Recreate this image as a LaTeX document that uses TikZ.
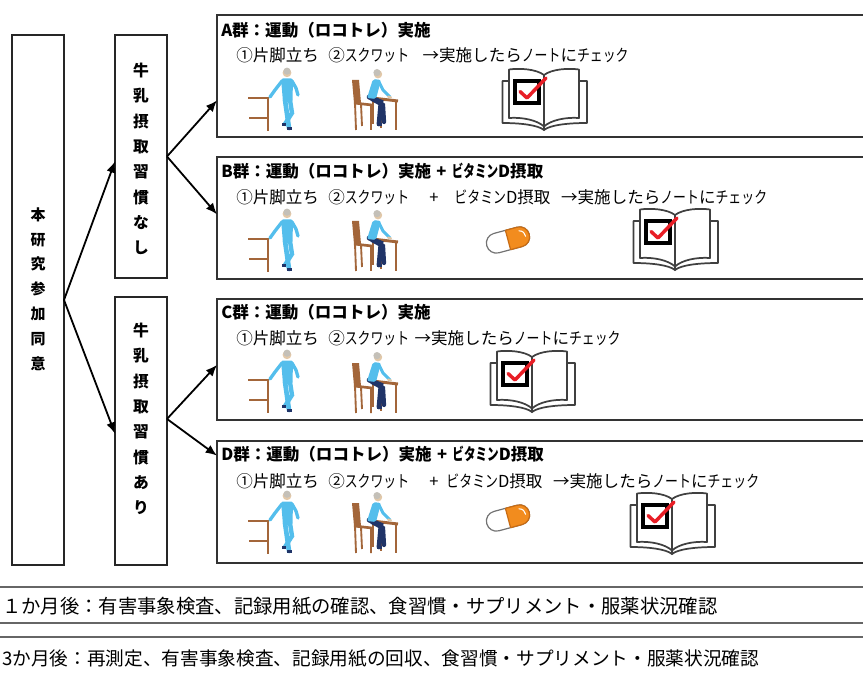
\documentclass[tikz,border=0pt]{standalone}
\usepackage{fontspec}
\usepackage{graphicx}
\setmainfont{Noto Sans CJK JP}
\usetikzlibrary{arrows.meta,calc}

\definecolor{chairc}{RGB}{163,102,58}
\definecolor{skin}{RGB}{226,200,168}
\definecolor{hairc}{RGB}{196,192,184}
\definecolor{shirt}{RGB}{84,190,236}
\definecolor{pants}{RGB}{32,52,104}
\definecolor{pillor}{RGB}{242,140,30}
\definecolor{pillorD}{RGB}{200,108,20}
\definecolor{checkred}{RGB}{232,30,38}
\definecolor{bookc}{RGB}{64,64,64}

% narrower katakana runs
\newcommand\kn[1]{\scalebox{0.78}[1]{#1}}
\newcommand\knt[1]{\scalebox{0.7}[1]{#1}}
\newcommand\gap[1]{\hspace{#1pt}}

\tikzset{
  frame/.style={draw=black!85, line width=1.1pt, inner sep=0pt, outer sep=0pt, anchor=north west},
  grpbox/.style={draw=black!80, line width=1.5pt, inner sep=0pt, outer sep=0pt, anchor=north west,
                 minimum width=493.5pt},
  arr/.style={-{Latex[length=8.5pt,width=7pt]}, line width=1.35pt},
  vtext/.style={font=\bfseries\fontsize{11.2}{18.6}\selectfont, align=center, inner sep=0pt},
  mtext/.style={font=\bfseries\fontsize{11.8}{19}\selectfont, align=center, inner sep=0pt},
  title/.style={font=\bfseries\fontsize{12.4}{14}\selectfont, anchor=west, inner sep=0pt},
  item/.style={font=\fontsize{12.4}{14}\selectfont, anchor=west, inner sep=0pt},
  note/.style={font=\fontsize{14.5}{16}\selectfont, anchor=west, inner sep=0pt},
  rulel/.style={draw=black!60, line width=1.2pt},
  % one-leg standing figure holding a chair
  standfig/.pic={
    \draw[chairc, line width=2.1pt] (0,30) -- (20,30) -- (20,63);
    \draw[chairc, line width=2.1pt] (1,50) -- (20,50);
    \draw[shirt, line width=2.5pt, line cap=round] (34,13) -- (27,22) -- (22,29);
    \draw[shirt, line width=2.5pt, line cap=round] (44,13) -- (48,20) -- (50,27);
    \draw[shirt, line width=3.3pt, line cap=round] (42,32) -- (44,45) -- (37,56);
    \draw[shirt, line width=3.5pt, line cap=round] (37,32) -- (39,46) -- (41,60);
    \fill[shirt, rounded corners=1.5pt] (33,10.5) -- (45,10.5) -- (44.5,34) -- (35,34) -- cycle;
    \fill[pants] (39,59) rectangle (44,62);
    \fill[pants] (34,55) rectangle (38,58);
    \fill[skin] (39,4.8) circle (4.4);
    \fill[hairc] (39,3.2) circle (3.6);
  },
  % squat figure at a chair and desk
  squatfig/.pic={
    \draw[chairc, line width=1.4pt] (5,35) -- (6,62) (11,36) -- (12,58) (21,37) -- (21,62);
    \draw[chairc, line width=1.4pt] (23,31) -- (23,56) (31,32) -- (31,60) (46,33) -- (46,62);
    \draw[chairc, line width=2.2pt] (18,29.5) -- (48,33);
    \draw[chairc, line width=2pt] (4,35) -- (22,37);
    \fill[chairc] (2,12) -- (9,12) -- (11,35) -- (4,35) -- cycle;
    \draw[pants, line width=3.6pt, line cap=round] (19,29) -- (31,34) -- (29,56);
    \draw[pants, line width=3.2pt, line cap=round] (22,31) -- (33,37) -- (34,54);
    \fill[pants] (27,55) rectangle (32,58);
    \fill[shirt, rounded corners=1.5pt] (23,11) -- (31,12) -- (26,31) -- (17,30) -- cycle;
    \draw[shirt, line width=2.2pt, line cap=round] (29,14) -- (33,22) -- (40,29);
    \draw[skin, line width=1.6pt, line cap=round] (38,28.5) -- (41,29.5);
    \fill[skin] (28,6.2) circle (4.2);
    \fill[hairc] (27,4.6) circle (3.6);
  },
  % vitamin capsule
  capsule/.pic={
    \begin{scope}[rotate=15]
      \path[draw=black!55, fill=white, line width=0.9pt, rounded corners=7.4pt] (-22,-10) rectangle (22,10);
      \begin{scope}
        \clip (0,-12) rectangle (24,12);
        \path[draw=pillorD, fill=pillor, line width=0.9pt, rounded corners=7.4pt] (-22,-10) rectangle (22,10);
      \end{scope}
      \draw[pillorD, line width=0.9pt] (0,-10) -- (0,10);
      \draw[white, line width=0.8pt, line cap=round] (13,-6) .. controls (17,-5) and (18,-2) .. (18,1);
    \end{scope}
  },
  % open notebook with a ticked box
  notebook/.pic={
    \draw[bookc, line width=1.3pt, line join=round]
      (7,13) -- (0.5,13) -- (0.5,55) .. controls (18,55) and (36,57) .. (42,62)
      .. controls (48,57) and (66,55) .. (85,55) -- (85,13) -- (77,13);
    \draw[bookc, line width=1.3pt, line join=round]
      (42,7) .. controls (34,1) and (18,0) .. (7,1.5) -- (7,50)
      .. controls (20,49) and (35,52) .. (42,58.5)
      .. controls (49,52) and (64,49) .. (77,50) -- (77,1.5)
      .. controls (66,0) and (50,1) .. (42,7) -- (42,62);
    \fill[bookc] (42,61.5) circle (1.6);
    \draw[black, line width=2.6pt] (13,13) rectangle (37,35);
    \draw[checkred, line width=2.6pt, line cap=round, line join=round] (18,23.5) -- (25,30) -- (44,10);
  }
}

\begin{document}
\begin{tikzpicture}[x=0.75pt,y=-0.75pt]
\useasboundingbox (0,0) rectangle (863,673);
\clip (0,0) rectangle (863,673);

% consent box and the two milk-habit boxes
\node[frame, minimum width=39pt, minimum height=397.5pt] (L) at (12,35) {};
\node[vtext] (Ltxt) at (38,289) {本\\研\\究\\参\\加\\同\\意};
\node[frame, minimum width=39pt, minimum height=182.25pt] (M1) at (115,35) {};
\node[mtext] (M1txt) at (141,159) {牛\\乳\\摂\\取\\習\\慣\\な\\し};
\node[frame, minimum width=39pt, minimum height=201pt] (M2) at (115,297) {};
\node[mtext] (M2txt) at (141,419) {牛\\乳\\摂\\取\\習\\慣\\あ\\り};

% group boxes
\node[grpbox, minimum height=91.5pt] (GA) at (217,15) {};
\node[grpbox, minimum height=91.5pt] (GB) at (217,157) {};
\node[grpbox, minimum height=90.75pt] (GC) at (217,299) {};
\node[grpbox, minimum height=91.5pt] (GD) at (217,441) {};

% arrow end points on the box sides
\coordinate (M1in) at ($(M1.north west)!0.52!(M1.south west)$);
\coordinate (M2in) at ($(M2.north west)!0.51!(M2.south west)$);
\coordinate (M2out) at ($(M2.north east)!0.455!(M2.south east)$);
\coordinate (GAin) at ($(GA.north west)!0.70!(GA.south west)$);
\coordinate (GBin) at ($(GB.north west)!0.47!(GB.south west)$);
\coordinate (GCin) at ($(GC.north west)!0.545!(GC.south west)$);
\coordinate (GDin) at ($(GD.north west)!0.12!(GD.south west)$);

\draw[arr] (L.east) -- (M1in);
\draw[arr] (L.east) -- (M2in);
\draw[arr] (M1.east) -- (GAin);
\draw[arr] (M1.east) -- (GBin);
\draw[arr] (M2out) -- (GCin);
\draw[arr] (M2out) -- (GDin);

% group A
\node[title] (TA) at (221,30) {A群：運動（ロコトレ）実施};
\node[item] (IA) at (236,55) {①片脚立ち\gap{7}②\kn{スクワット}\gap{10}→実施したら\kn{ノート}に\kn{チェック}};
\pic at (248,68) {standfig};
\pic at (350,68) {squatfig};
\pic at (502,68) {notebook};

% group B
\node[title] (TB) at (221,171) {B群：運動（ロコトレ）実施\gap{4}+\gap{4}\knt{ビタミン}D摂取};
\node[item] (IB) at (236,197) {①片脚立ち\gap{7}②\kn{スクワット}\gap{15}+\gap{12}\kn{ビタミン}D摂取\gap{8}→実施したら\kn{ノート}に\kn{チェック}};
\pic at (248,209) {standfig};
\pic at (350,209) {squatfig};
\pic at (508,240) {capsule};
\pic at (633,208) {notebook};

% group C
\node[title] (TC) at (221,312) {C群：運動（ロコトレ）実施};
\node[item] (IC) at (236,338) {①片脚立ち\gap{7}②\kn{スクワット}\gap{4}→実施したら\kn{ノート}に\kn{チェック}};
\pic at (248,350) {standfig};
\pic at (350,351) {squatfig};
\pic at (490,350) {notebook};

% group D
\node[title] (TD) at (221,454) {D群：運動（ロコトレ）実施\gap{4}+\gap{4}\knt{ビタミン}D摂取};
\node[item] (ID) at (236,481) {①片脚立ち\gap{7}②\kn{スクワット}\gap{15}+\gap{6}\kn{ビタミン}D摂取\gap{8}→実施したら\kn{ノート}に\kn{チェック}};
\pic at (248,491) {standfig};
\pic at (350,491) {squatfig};
\pic at (508,518) {capsule};
\pic at (630,492) {notebook};

% follow-up schedule
\draw[rulel] (0,587) -- (863,587);
\draw[rulel] (0,623) -- (863,623);
\draw[rulel] (0,637) -- (863,637);
\node[note] (N1) at (2,606) {１か月後：有害事象検査、記録用紙の確認、食習慣・サプリメント・服薬状況確認};
\node[note, font=\fontsize{14}{16}\selectfont] (N3) at (2,659) {3か月後：再測定、有害事象検査、記録用紙の回収、食習慣・サプリメント・服薬状況確認};
\end{tikzpicture}
\end{document}
